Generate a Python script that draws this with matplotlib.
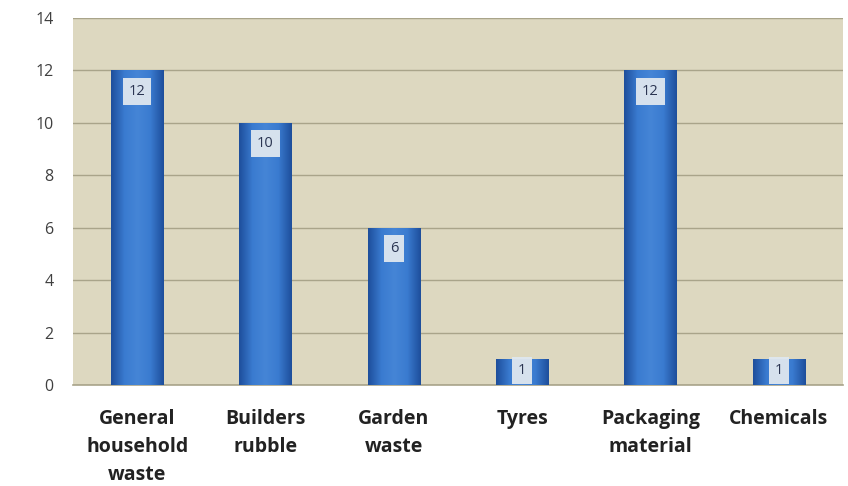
import numpy as np
import matplotlib.pyplot as plt
from matplotlib.colors import LinearSegmentedColormap

categories = ['General\nhousehold\nwaste', 'Builders\nrubble', 'Garden\nwaste',
              'Tyres', 'Packaging\nmaterial', 'Chemicals']
counts = [12, 10, 6, 1, 12, 1]
yticks = [0, 2, 4, 6, 8, 10, 12, 14]

fig = plt.figure(figsize=(8.48, 4.86), dpi=100)
ax = fig.add_axes([73 / 848, 101 / 486, 770 / 848, 367 / 486])
ax.set_facecolor('#ddd8c0')

x = np.arange(len(categories))
bars = ax.bar(x, counts, width=0.41, color='#3676c6', zorder=3)

# horizontal shading across each bar: dark edges, lighter middle
shade = LinearSegmentedColormap.from_list(
    'barshade', ['#1e4f9c', '#3a7bd0', '#4585d6', '#3a7bd0', '#1e4f9c'])
grad = np.linspace(0, 1, 64).reshape(1, -1)
for b in bars:
    x0, w, h = b.get_x(), b.get_width(), b.get_height()
    im = ax.imshow(grad, cmap=shade, aspect='auto', extent=(x0, x0 + w, 0, h),
                   zorder=4, interpolation='bicubic')
    im.set_clip_path(b)

for xi, v in zip(x, counts):
    ax.text(xi, v - 0.8 if v > 1 else v - 0.45, str(v), ha='center', va='center',
            fontsize=10.5, color='#2b3552', zorder=6, fontfamily='Open Sans',
            bbox=dict(boxstyle='square,pad=0.4', fc='#dfe7ef', ec='none', alpha=0.95))

ax.set_xlim(-0.5, len(categories) - 0.5)
ax.set_ylim(0, 14)
ax.set_yticks(yticks)
ax.set_yticklabels([str(t) for t in yticks], fontfamily='Open Sans')
ax.yaxis.grid(True, color='#a9a48a', linewidth=1.0, zorder=1)
ax.set_axisbelow(True)
ax.tick_params(axis='y', length=0, pad=14, labelsize=11.5, labelcolor='#404040')
ax.tick_params(axis='x', length=0, pad=17)
ax.set_xticks(x)
ax.set_xticklabels(categories, fontsize=14, fontweight='bold', color='#222222',
                   linespacing=1.55, fontfamily='Open Sans', va='top')

for side in ['top', 'right', 'left']:
    ax.spines[side].set_visible(False)
ax.spines['bottom'].set_color('#a9a48a')
ax.spines['bottom'].set_linewidth(1.2)

fig.savefig('out.png', dpi=100)
